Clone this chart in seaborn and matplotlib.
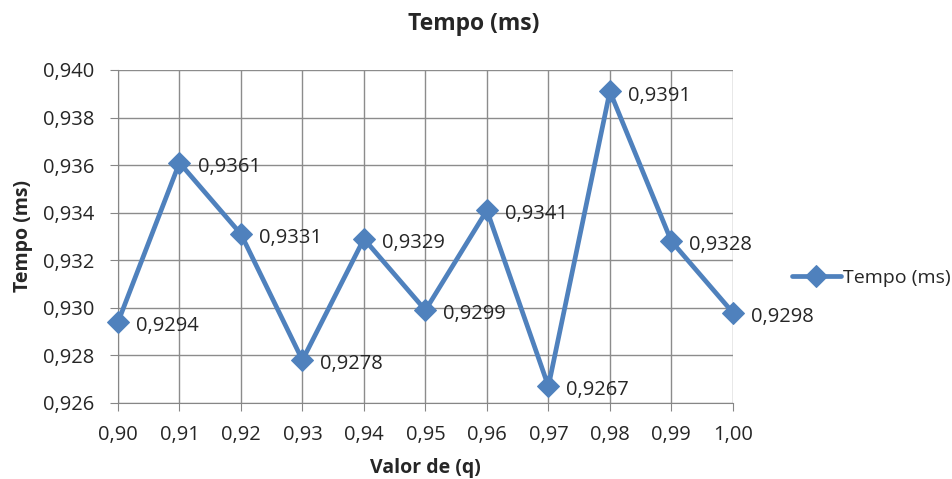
import pandas as pd
import numpy as np
import matplotlib.pyplot as plt
import seaborn as sns

# valores do grafico
q = [0.90, 0.91, 0.92, 0.93, 0.94, 0.95, 0.96, 0.97, 0.98, 0.99, 1.00]
tempo = [0.9294, 0.9361, 0.9331, 0.9278, 0.9329, 0.9299, 0.9341, 0.9267, 0.9391, 0.9328, 0.9298]
yticks = [0.926, 0.928, 0.930, 0.932, 0.934, 0.936, 0.938, 0.940]

data = pd.DataFrame({'q': q, 'Tempo (ms)': tempo})

sns.set_style('white')
plt.rcParams['font.family'] = ['Open Sans', 'DejaVu Sans']

fig = plt.figure(figsize=(9.53, 4.79), dpi=100)
ax = fig.add_axes([0.1238, 0.1587, 0.6452, 0.6952])

blue = '#4F81BD'
sns.lineplot(data=data, x='q', y='Tempo (ms)', ax=ax, color=blue, linewidth=3.4,
             marker='D', markersize=11, markeredgecolor=blue, label='Tempo (ms)',
             clip_on=False, zorder=3)

for xv, yv in zip(q, tempo):
    ax.annotate(('%.4f' % yv).replace('.', ','), (xv, yv), xytext=(13, -3),
                textcoords='offset points', ha='left', va='center', fontsize=14.5)

ax.set_xlim(0.90, 1.00)
ax.set_ylim(0.926, 0.940)
ax.set_xticks(q)
ax.set_xticklabels([('%.2f' % v).replace('.', ',') for v in q], fontsize=14.5)
ax.set_yticks(yticks)
ax.set_yticklabels([('%.3f' % v).replace('.', ',') for v in yticks], fontsize=14.5)
ax.grid(True, color='#8c8c8c', linewidth=1)
ax.set_axisbelow(True)
for s in ['top', 'right']:
    ax.spines[s].set_visible(False)
for s in ['left', 'bottom']:
    ax.spines[s].set_color('#868686')
ax.tick_params(axis='both', which='both', length=6, color='#868686', direction='out',
               left=True, bottom=True)
ax.tick_params(axis='x', pad=10)
ax.tick_params(axis='y', pad=11)

ax.set_xlabel('Valor de (q)', fontsize=14, fontweight='bold', labelpad=9)
ax.set_ylabel('Tempo (ms)', fontsize=14, fontweight='bold', labelpad=7)
fig.suptitle('Tempo (ms)', x=0.497, y=0.975, fontsize=16.5, fontweight='bold')

ax.legend(loc='center left', bbox_to_anchor=(0.823, 0.42), bbox_transform=fig.transFigure,
          frameon=False, fontsize=14, handlelength=2.5, handletextpad=0.1, borderaxespad=0)

fig.savefig('out.png', dpi=100)
